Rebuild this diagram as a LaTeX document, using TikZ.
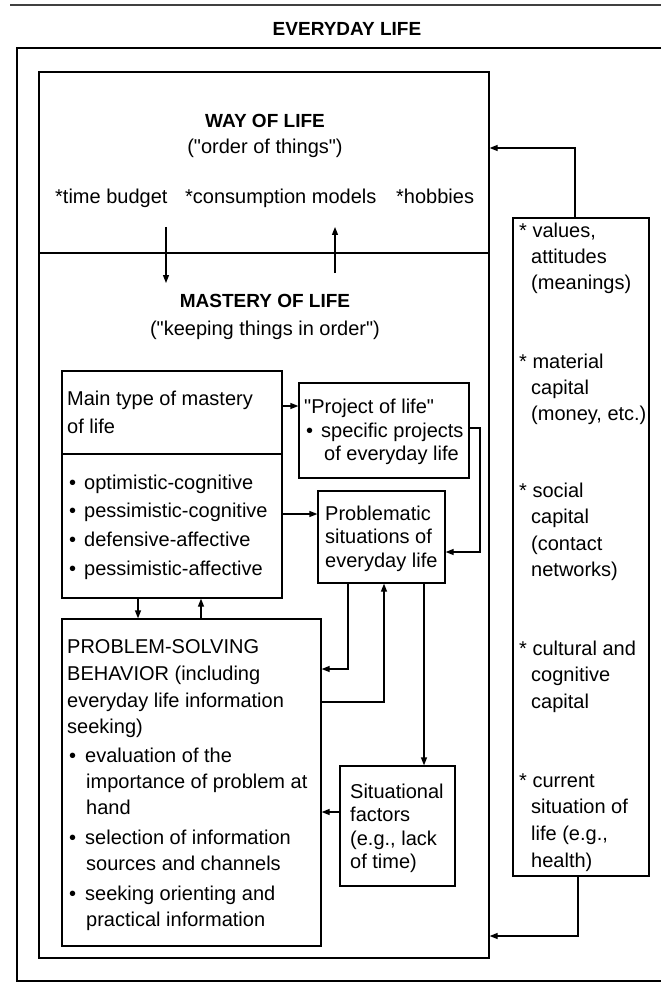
\documentclass[tikz,border=0pt]{standalone}
\usepackage{fontspec}
\setmainfont{Liberation Sans}[Ligatures=TeXOff]
\usetikzlibrary{arrows.meta,fit}
\begin{document}
\begin{tikzpicture}[x=1pt,y=-1pt,
  boxst/.style={draw, line width=1.3pt, inner sep=0pt},
  txt/.style={anchor=base west, inner sep=0pt, font=\fontsize{20}{24}\selectfont},
  ctxt/.style={anchor=base, inner sep=0pt, font=\fontsize{20}{24}\selectfont},
  hd/.style={anchor=base, inner sep=0pt, font=\fontsize{19}{24}\selectfont\bfseries},
  arr/.style={line width=1.3pt, -{Triangle[length=8pt,width=6pt]}},
  ln/.style={line width=1.3pt}]
\useasboundingbox (0,0) rectangle (661,984);
% top rule and title
\coordinate (ruleL) at (10,5);
\coordinate (ruleR) at (661,5);
\draw[line width=2pt, black!75] (ruleL) -- (ruleR);
\node[hd] (title) at (347,36) {EVERYDAY LIFE};
% outer frame (open to the right)
\coordinate (o1) at (661,48);
\coordinate (o2) at (17,48);
\coordinate (o3) at (17,981);
\coordinate (o4) at (661,981);
\draw[ln] (o1) -- (o2) -- (o3) -- (o4);
% boxes
\node[boxst, fit={(39,72)(489,958)}] (inner) {};
\node[boxst, fit={(513,218)(649,876)}] (res) {};
\node[boxst, fit={(62,371)(282,598)}] (mt) {};
\node[boxst, fit={(299,383)(469,478)}] (proj) {};
\node[boxst, fit={(318,491)(445,583)}] (prob) {};
\node[boxst, fit={(62,619)(321,946)}] (ps) {};
\node[boxst, fit={(340,766)(455,886)}] (sit) {};
% dividers
\draw[ln] (inner.west |- 0,253) -- (inner.east |- 0,253);
\draw[ln] (mt.west |- 0,454) -- (mt.east |- 0,454);
% way of life texts
\node[hd] (wol) at (265,128) {WAY OF LIFE};
\node[ctxt] (wol2) at (265,154) {("order of things")};
\node[txt] (tb) at (55,204) {*time budget};
\node[txt] (cm) at (185,204) {*consumption models};
\node[txt] (hb) at (396,204) {*hobbies};
\node[hd] (mol) at (265,307) {MASTERY OF LIFE};
\node[ctxt] (mol2) at (265,335) {("keeping things in order")};
% arrows between way and mastery
\coordinate (tbA) at (166,227);
\coordinate (tbB) at (166,283);
\coordinate (cmA) at (335,273);
\coordinate (cmB) at (335,227);
\draw[arr] (tbA) -- (tbB);
\draw[arr] (cmA) -- (cmB);
% main type box text
\node[txt] (mt1) at (67,405) {Main type of mastery};
\node[txt] (mt2) at (67,433) {of life};
\foreach \t [count=\i] in {optimistic-cognitive, pessimistic-cognitive, defensive-affective, pessimistic-affective}{
  \node[txt] (mtb\i) at (69,{489+28.7*(\i-1)}) {•};
  \node[txt] (mtt\i) at (84,{489+28.7*(\i-1)}) {\t};
}
% project box text
\node[txt] (pj1) at (304,413) {"Project of life"};
\node[txt] (pjb) at (306,437) {•};
\node[txt] (pj2) at (321,437) {specific projects};
\node[txt] (pj3) at (324,460) {of everyday life};
% problematic text
\node[txt] (pr1) at (325,520) {Problematic};
\node[txt] (pr2) at (325,543.5) {situations of};
\node[txt] (pr3) at (325,567) {everyday life};
% problem-solving text
\node[txt] (ps1) at (67,653) {PROBLEM-SOLVING};
\node[txt] (ps2) at (67,680) {BEHAVIOR (including};
\node[txt] (ps3) at (67,707) {everyday life information};
\node[txt] (ps4) at (67,733) {seeking)};
\node[txt] (psb1) at (69,762) {•};
\node[txt] (ps5) at (85,762) {evaluation of the};
\node[txt] (ps6) at (86,788) {importance of problem at};
\node[txt] (ps7) at (86,814) {hand};
\node[txt] (psb2) at (69,844) {•};
\node[txt] (ps8) at (85,844) {selection of information};
\node[txt] (ps9) at (86,870) {sources and channels};
\node[txt] (psb3) at (69,900) {•};
\node[txt] (ps10) at (85,900) {seeking orienting and};
\node[txt] (ps11) at (86,926) {practical information};
% situational text
\node[txt] (st1) at (350,798) {Situational};
\node[txt] (st2) at (350,821.5) {factors};
\node[txt] (st3) at (350,845) {(e.g., lack};
\node[txt] (st4) at (350,868.5) {of time)};
% resources column
\node[txt] (r1) at (519,237) {* values,};
\node[txt] (r2) at (531,263) {attitudes};
\node[txt] (r3) at (531,289) {(meanings)};
\node[txt] (r4) at (519,368) {* material};
\node[txt] (r5) at (531,394) {capital};
\node[txt] (r6) at (531,420) {(money, etc.)};
\node[txt] (r7) at (519,497) {* social};
\node[txt] (r8) at (531,523) {capital};
\node[txt] (r9) at (531,550) {(contact};
\node[txt] (r10) at (531,576) {networks)};
\node[txt] (r11) at (519,655) {* cultural and};
\node[txt] (r12) at (531,681) {cognitive};
\node[txt] (r13) at (531,708) {capital};
\node[txt] (r14) at (519,787) {* current};
\node[txt] (r15) at (531,813) {situation of};
\node[txt] (r16) at (531,840) {life (e.g.,};
\node[txt] (r17) at (531,867) {health)};
% connectors
\draw[arr] (res.north -| 575,0) |- (inner.east |- 0,148);
\draw[arr] (res.south -| 578,0) |- (inner.east |- 0,936);
\draw[arr] (mt.east |- 0,406) -- (proj.west |- 0,406);
\draw[arr] (proj.east |- 0,428) -- (480,428) |- (prob.east |- 0,552);
\draw[arr] (mt.east |- 0,514) -- (prob.west |- 0,514);
\draw[arr] (mt.south -| 138,0) -- (ps.north -| 138,0);
\draw[arr] (ps.north -| 201,0) -- (mt.south -| 201,0);
\draw[arr] (prob.south -| 348,0) |- (ps.east |- 0,669);
\draw[arr] (ps.east |- 0,702) -| (prob.south -| 384,0);
\draw[arr] (prob.south -| 424,0) -- (sit.north -| 424,0);
\draw[arr] (sit.west |- 0,812) -- (ps.east |- 0,812);
\end{tikzpicture}
\end{document}
